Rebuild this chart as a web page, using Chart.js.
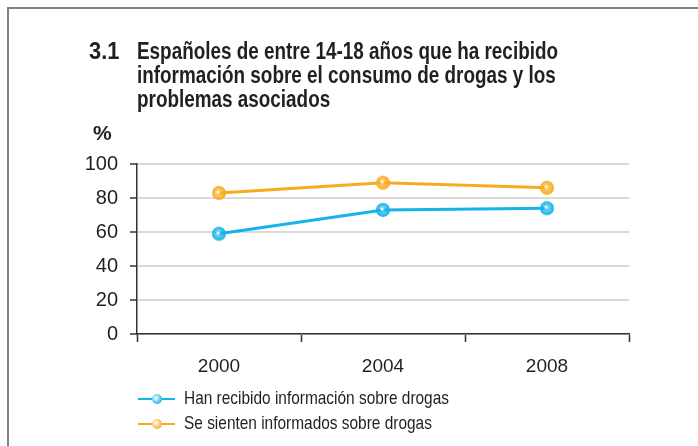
<!DOCTYPE html>
<html>
<head>
<meta charset="utf-8">
<script src="https://cdn.jsdelivr.net/npm/chart.js@4"></script>
<style>
  html, body { margin: 0; padding: 0; background: #fff; }
  #wrap { position: relative; width: 698px; height: 446px; overflow: hidden; }
  #frame { position: absolute; left: 7px; top: 7px; width: 800px; height: 600px;
           border-top: 2px solid #7d8589; border-left: 2px solid #7d8589; }
  #chart { position: absolute; left: 0; top: 0; }
  .title { position: absolute; top: 39px; left: 89px; font-family: "Liberation Sans", Arial, sans-serif;
           font-weight: bold; font-size: 23px; line-height: 24px; color: #231f20; }
  .title .num { position: absolute; left: 0; top: 0; transform-origin: 0 0; transform: scaleX(0.95); }
  .title .txt { position: absolute; left: 48px; top: 0; white-space: nowrap; transform-origin: 0 0; }
  .unit { position: absolute; left: 93px; top: 121px; font-family: "Liberation Sans", Arial, sans-serif;
          font-weight: bold; font-size: 21px; color: #231f20; }
  .legend { position: absolute; left: 138px; top: 387px; font-family: "Liberation Sans", Arial, sans-serif;
            font-size: 19px; color: #231f20; }
  .legend div { height: 25px; line-height: 22px; position: relative; white-space: nowrap; }
  .legend .ln { position: absolute; left: 0; top: 11px; width: 37px; height: 2px; }
  .legend .dot { position: absolute; left: 14px; top: 7px; width: 10px; height: 10px; border-radius: 50%; }
  .legend .lbl { position: absolute; left: 46px; top: 0; transform-origin: 0 0; }
</style>
</head>
<body>
<div id="wrap">
  <div id="frame"></div>
  <canvas id="chart" width="698" height="446"></canvas>
  <div class="title"><span class="num">3.1</span><span class="txt" id="titleTxt">Españoles de entre 14-18 años que ha recibido<br>información sobre el consumo de drogas y los<br>problemas asociados</span></div>
  <div class="unit">%</div>
  <div class="legend" id="legend"></div>
</div>
<script>
const years = ['2000', '2004', '2008'];
const recibido = [59, 73, 74];
const informados = [83, 89, 86];
const yTicks = [0, 20, 40, 60, 80, 100];
const seriesNames = ['Han recibido información sobre drogas', 'Se sienten informados sobre drogas'];
const seriesColors = ['#15b3e8', '#f9ab1f'];

// bolita con brillo, como en el original
function sphere(color, r) {
  const c = document.createElement('canvas');
  c.width = c.height = r * 2 + 2;
  const g = c.getContext('2d');
  const cx = r + 1, cy = r + 1;
  const grad = g.createRadialGradient(cx - 1, cy - 1, 0.5, cx, cy, r);
  grad.addColorStop(0, '#ffffff');
  grad.addColorStop(0.35, color + 'aa');
  grad.addColorStop(1, color);
  g.fillStyle = grad;
  g.beginPath();
  g.arc(cx, cy, r, 0, Math.PI * 2);
  g.fill();
  return c;
}

const data = {
  labels: years,
  datasets: [recibido, informados].map((vals, i) => ({
    label: seriesNames[i],
    data: vals,
    borderColor: seriesColors[i],
    borderWidth: 3,
    pointStyle: sphere(seriesColors[i], 7),
    pointRadius: 7,
    tension: 0
  }))
};

const config = {
  type: 'line',
  data: data,
  options: {
    responsive: false,
    animation: false,
    layout: { padding: { left: 0, right: 69, top: 164, bottom: 62 } },
    plugins: { legend: { display: false }, tooltip: { enabled: false } },
    scales: {
      x: {
        offset: true,
        grid: { offset: true, drawOnChartArea: false, tickLength: 8, tickColor: '#333', tickWidth: 1.5 },
        border: { color: '#333', width: 1.5 },
        ticks: { color: '#231f20', padding: 13, font: { family: 'Liberation Sans', size: 19 } },
        afterFit: s => { s.height = 50; }
      },
      y: {
        min: 0,
        max: 100,
        afterBuildTicks: s => { s.ticks = yTicks.map(v => ({ value: v })); },
        grid: { color: '#d9d9d9', lineWidth: 2, tickLength: 7, tickColor: '#333', tickWidth: 1.5 },
        border: { color: '#333', width: 1.5 },
        ticks: { color: '#231f20', padding: 12, font: { family: 'Liberation Sans', size: 20 } },
        afterFit: s => { s.width = 137; }
      }
    }
  }
};

const chart = new Chart(document.getElementById('chart'), config);

// leyenda en HTML: línea con bolita
const legend = document.getElementById('legend');
seriesNames.forEach((name, i) => {
  const row = document.createElement('div');
  row.innerHTML = '<span class="ln" style="background:' + seriesColors[i] + '"></span>' +
    '<span class="dot" style="background:radial-gradient(circle at 40% 40%, #fff 0, ' + seriesColors[i] + ' 75%)"></span>' +
    '<span class="lbl">' + name + '</span>';
  legend.appendChild(row);
});

// letra estrecha: se comprime el texto al ancho del original
function squeeze(el, w) {
  el.style.transform = 'scaleX(' + (w / el.getBoundingClientRect().width) + ')';
}
squeeze(document.getElementById('titleTxt'), 421);
squeeze(legend.querySelector('.lbl'), 265);
legend.querySelectorAll('.lbl')[1].style.transform = legend.querySelector('.lbl').style.transform;
</script>
</body>
</html>
